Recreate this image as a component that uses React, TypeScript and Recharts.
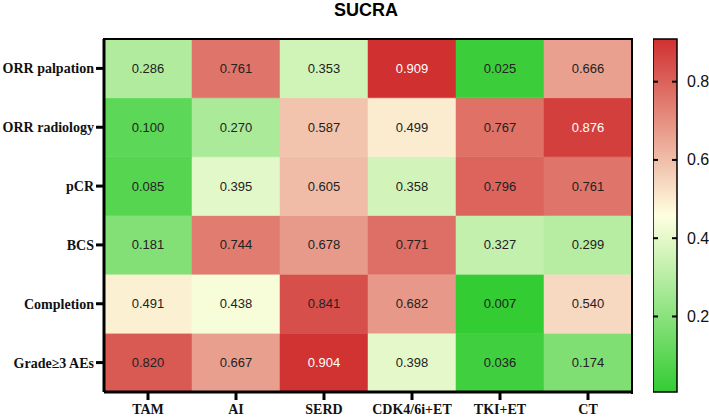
import { BarChart, Bar, XAxis, YAxis, Cell, LabelList } from 'recharts';

document.body.style.margin = '0';

const treatments = ['TAM', 'AI', 'SERD', 'CDK4/6i+ET', 'TKI+ET', 'CT'];
const outcomes = ['ORR palpation', 'ORR radiology', 'pCR', 'BCS', 'Completion', 'Grade≥3 AEs'];

// SUCRA values, one array per outcome (row), in treatment order
const orrPalpation = [0.286, 0.761, 0.353, 0.909, 0.025, 0.666];
const orrRadiology = [0.1, 0.27, 0.587, 0.499, 0.767, 0.876];
const pcr = [0.085, 0.395, 0.605, 0.358, 0.796, 0.761];
const bcs = [0.181, 0.744, 0.678, 0.771, 0.327, 0.299];
const completion = [0.491, 0.438, 0.841, 0.682, 0.007, 0.54];
const grade3AEs = [0.82, 0.667, 0.904, 0.398, 0.036, 0.174];

const rows = [orrPalpation, orrRadiology, pcr, bcs, completion, grade3AEs];
const colorTicks = [0.2, 0.4, 0.6, 0.8];
const rowTicks = [0.5, 1.5, 2.5, 3.5, 4.5, 5.5];

const LO = 0.007;
const HI = 0.909;
const GREEN = [51, 204, 51];
const CREAM = [255, 255, 224];
const RED = [208, 48, 48];

const mix = (a: number[], b: number[], t: number) =>
  `rgb(${a.map((c, i) => Math.round(c + (b[i] - c) * t)).join(',')})`;

const colorFor = (v: number) => {
  const mid = (LO + HI) / 2;
  if (v < mid) return mix(GREEN, CREAM, (v - LO) / (mid - LO));
  return mix(CREAM, RED, (v - mid) / (HI - mid));
};

// one entry per treatment; stack segments are unit height, bottom row first
const stackOrder = [5, 4, 3, 2, 1, 0];
const data = treatments.map((name, col) => {
  const d: Record<string, any> = { name };
  rows.forEach((r, i) => {
    d[`u${i}`] = 1;
    d[`v${i}`] = r[col];
  });
  return d;
});

const serif = '"Liberation Serif", "Times New Roman", serif';
const sans = '"Liberation Sans", Arial, sans-serif';

const renderValue = (props: any) => {
  const { x, y, width, height, value } = props;
  return (
    <text
      x={x + width / 2}
      y={y + height / 2}
      textAnchor="middle"
      dominantBaseline="central"
      fontSize={13}
      fontFamily={sans}
      fill={value > 0.87 ? '#fff' : '#222'}
    >
      {value.toFixed(3)}
    </text>
  );
};

const ColorTick = (props: any) => {
  const { x, y, payload } = props;
  return (
    <text x={x + 10} y={y} dominantBaseline="central" fontSize={16} fontFamily={sans} fill="#111">
      {payload.value}
    </text>
  );
};

// gradient bar plus the small inner tick marks on both edges
const ColorBarShape = (props: any) => {
  const { x, y, width, height } = props;
  const ty = (v: number) => y + (height * (HI - v)) / (HI - LO);
  return (
    <g>
      <rect x={x} y={y} width={width} height={height} fill="url(#sucraGrad)" stroke="#000" strokeWidth={1.5} />
      {colorTicks.map((t) => (
        <g key={t}>
          <line x1={x} x2={x + 5} y1={ty(t)} y2={ty(t)} stroke="#000" strokeWidth={2} />
          <line x1={x + width - 5} x2={x + width} y1={ty(t)} y2={ty(t)} stroke="#000" strokeWidth={2} />
        </g>
      ))}
    </g>
  );
};

const App = () => {
  return (
    <div style={{ position: 'relative', width: 709, height: 417, background: '#fff' }}>
      <div
        style={{
          position: 'absolute',
          left: 316,
          top: 0,
          width: 100,
          textAlign: 'center',
          fontFamily: sans,
          fontWeight: 'bold',
          fontSize: 18,
          lineHeight: '20px',
        }}
      >
        SUCRA
      </div>
      <div style={{ position: 'absolute', left: 0, top: 0 }}>
        <BarChart
          width={709}
          height={417}
          data={data}
          margin={{ top: 39, right: 77, bottom: 0, left: 0 }}
          barCategoryGap={0}
          barGap={0}
        >
          <XAxis
            dataKey="name"
            height={25}
            tickSize={8}
            tickMargin={4}
            axisLine={{ stroke: '#000', strokeWidth: 3 }}
            tickLine={{ stroke: '#000', strokeWidth: 3 }}
            tick={{ fill: '#111', fontSize: 14, fontFamily: serif, fontWeight: 'bold' }}
            interval={0}
          />
          <YAxis
            type="number"
            domain={[0, 6]}
            ticks={rowTicks}
            width={104}
            tickSize={8}
            tickFormatter={(v: number) => outcomes[5 - Math.floor(v)]}
            axisLine={{ stroke: '#000', strokeWidth: 3 }}
            tickLine={{ stroke: '#000', strokeWidth: 3 }}
            tick={{ fill: '#111', fontSize: 14, fontFamily: serif, fontWeight: 'bold' }}
          />
          {stackOrder.map((r) => (
            <Bar key={r} dataKey={`u${r}`} stackId="grid" isAnimationActive={false}>
              {data.map((d, i) => (
                <Cell key={i} fill={colorFor(d[`v${r}`])} stroke={colorFor(d[`v${r}`])} strokeWidth={0.5} />
              ))}
              <LabelList dataKey={`v${r}`} content={renderValue} />
            </Bar>
          ))}
        </BarChart>
      </div>
      {/* top and right edges of the plot frame */}
      <div
        style={{
          position: 'absolute',
          left: 103,
          top: 38,
          width: 528,
          height: 354,
          borderTop: '2px solid #000',
          borderRight: '2px solid #000',
          pointerEvents: 'none',
        }}
      />
      <div style={{ position: 'absolute', left: 653, top: 0 }}>
        <BarChart
          width={56}
          height={417}
          data={[{ name: 'scale', range: [LO, HI] }]}
          margin={{ top: 39, right: 0, bottom: 25, left: 0 }}
          barCategoryGap={0}
        >
          <defs>
            <linearGradient id="sucraGrad" x1="0" y1="0" x2="0" y2="1">
              <stop offset="0%" stopColor={colorFor(HI)} />
              <stop offset="50%" stopColor={colorFor((LO + HI) / 2)} />
              <stop offset="100%" stopColor={colorFor(LO)} />
            </linearGradient>
          </defs>
          <XAxis dataKey="name" hide />
          <YAxis
            type="number"
            orientation="right"
            domain={[LO, HI]}
            ticks={colorTicks}
            width={32}
            tickSize={0}
            tickMargin={0}
            axisLine={false}
            tickLine={false}
            tick={<ColorTick />}
          />
          <Bar dataKey="range" shape={<ColorBarShape />} isAnimationActive={false} />
        </BarChart>
      </div>
    </div>
  );
};

export default App;
